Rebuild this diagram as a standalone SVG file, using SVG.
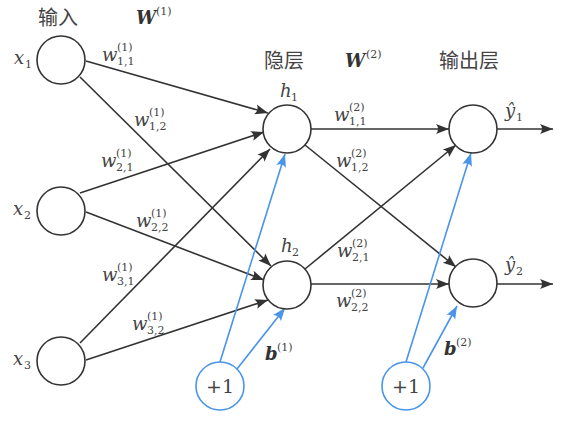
<svg xmlns="http://www.w3.org/2000/svg" width="583" height="424" viewBox="0 0 583 424">
<style>
.nd{fill:#fff;stroke:#333;stroke-width:1.6}
.bn{fill:#fff;stroke:#4a94ea;stroke-width:1.6}
.ln{stroke:#333;stroke-width:1.6;fill:none}
.bl{stroke:#4a94ea;stroke-width:1.6;fill:none}
.cn{font-family:"Noto Sans CJK SC","Noto Sans",sans-serif;font-size:20px;fill:#444}
.m{font-family:"DejaVu Serif","Liberation Serif",serif;font-style:italic;font-size:18px;fill:#444}
.s{font-family:"DejaVu Serif","Liberation Serif",serif;font-size:11px;fill:#444}
.bw{font-family:"DejaVu Serif","Liberation Serif",serif;font-style:italic;font-weight:bold;font-size:18px;fill:#333}
.r{font-family:"DejaVu Serif","Liberation Serif",serif;font-size:19px;fill:#444}
</style>
<defs>
<marker id="ah" viewBox="-13 -6 14 12" refX="0" refY="0" markerWidth="14" markerHeight="12" markerUnits="userSpaceOnUse" orient="auto">
<path d="M0,0 L-13,-5 Q-9,0 -13,5 Z" fill="#333"/>
</marker>
<marker id="ab" viewBox="-13 -6 14 12" refX="0" refY="0" markerWidth="14" markerHeight="12" markerUnits="userSpaceOnUse" orient="auto">
<path d="M0,0 L-13,-5 Q-9,0 -13,5 Z" fill="#4a94ea"/>
</marker>
</defs>
<rect width="583" height="424" fill="#fff"/>
<g id="headers">
<text class="cn" x="38" y="25">输入</text>
<text class="bw" x="136" y="24">W</text><text class="s" x="156" y="15">(1)</text>
<text class="cn" x="264" y="68">隐层</text>
<text class="bw" x="345" y="67">W</text><text class="s" x="366" y="58">(2)</text>
<text class="cn" x="439" y="68">输出层</text>
</g>
<g id="connectors">
<line class="ln" x1="86" y1="61" x2="268" y2="113" marker-end="url(#ah)"/>
<line class="ln" x1="80" y1="77" x2="271" y2="266" marker-end="url(#ah)"/>
<line class="ln" x1="80" y1="193" x2="264" y2="132" marker-end="url(#ah)"/>
<line class="ln" x1="86" y1="212" x2="264" y2="280" marker-end="url(#ah)"/>
<line class="ln" x1="80" y1="343" x2="270" y2="149" marker-end="url(#ah)"/>
<line class="ln" x1="86" y1="360" x2="268" y2="300" marker-end="url(#ah)"/>
<line class="ln" x1="311" y1="129" x2="449" y2="129" marker-end="url(#ah)"/>
<line class="ln" x1="305" y1="145" x2="456" y2="267" marker-end="url(#ah)"/>
<line class="ln" x1="305" y1="269" x2="456" y2="145" marker-end="url(#ah)"/>
<line class="ln" x1="311" y1="284" x2="449" y2="284" marker-end="url(#ah)"/>
<line class="ln" x1="497" y1="129" x2="553" y2="129" marker-end="url(#ah)"/>
<line class="ln" x1="497" y1="284" x2="553" y2="284" marker-end="url(#ah)"/>
<line class="bl" x1="220" y1="362" x2="285" y2="154" marker-end="url(#ab)"/>
<line class="bl" x1="237" y1="369" x2="285" y2="308" marker-end="url(#ab)"/>
<line class="bl" x1="406" y1="362" x2="471" y2="153" marker-end="url(#ab)"/>
<line class="bl" x1="423" y1="368" x2="457" y2="306" marker-end="url(#ab)"/>
</g>
<g id="weights">
<text class="m" x="102" y="61">w</text><text class="s" x="117" y="51">(1)</text><text class="s" x="117" y="65">1,1</text>
<text class="m" x="134" y="126">w</text><text class="s" x="149" y="116">(1)</text><text class="s" x="149" y="130">1,2</text>
<text class="m" x="101" y="167">w</text><text class="s" x="116" y="157">(1)</text><text class="s" x="116" y="171">2,1</text>
<text class="m" x="136" y="227">w</text><text class="s" x="151" y="217">(1)</text><text class="s" x="151" y="231">2,2</text>
<text class="m" x="102" y="281">w</text><text class="s" x="117" y="271">(1)</text><text class="s" x="117" y="285">3,1</text>
<text class="m" x="132" y="330">w</text><text class="s" x="147" y="320">(1)</text><text class="s" x="147" y="334">3,2</text>
<text class="m" x="334" y="121">w</text><text class="s" x="349" y="111">(2)</text><text class="s" x="349" y="125">1,1</text>
<text class="m" x="336" y="167">w</text><text class="s" x="351" y="157">(2)</text><text class="s" x="351" y="171">1,2</text>
<text class="m" x="337" y="257">w</text><text class="s" x="352" y="247">(2)</text><text class="s" x="352" y="261">2,1</text>
<text class="m" x="336" y="307">w</text><text class="s" x="351" y="297">(2)</text><text class="s" x="351" y="311">2,2</text>
<text class="bw" x="265" y="360">b</text><text class="s" x="277" y="351">(1)</text>
<text class="bw" x="444" y="355">b</text><text class="s" x="456" y="346">(2)</text>
</g>
<g id="x1"><circle class="nd" cx="61" cy="60" r="24"/><text class="m" x="14" y="64">x</text><text class="s" x="25" y="68">1</text></g>
<g id="x2"><circle class="nd" cx="61" cy="211" r="24"/><text class="m" x="13" y="215">x</text><text class="s" x="24" y="219">2</text></g>
<g id="x3"><circle class="nd" cx="61" cy="361" r="24"/><text class="m" x="13" y="365">x</text><text class="s" x="24" y="369">3</text></g>
<g id="h1"><circle class="nd" cx="287" cy="129" r="24"/><text class="m" x="280" y="97">h</text><text class="s" x="291" y="101">1</text></g>
<g id="h2"><circle class="nd" cx="287" cy="285" r="24"/><text class="m" x="281" y="252">h</text><text class="s" x="292" y="256">2</text></g>
<g id="y1"><circle class="nd" cx="473" cy="129" r="24"/><text class="m" x="505" y="117">ŷ</text><text class="s" x="516" y="121">1</text></g>
<g id="y2"><circle class="nd" cx="473" cy="283" r="24"/><text class="m" x="505" y="271">ŷ</text><text class="s" x="516" y="275">2</text></g>
<g id="b1"><circle class="bn" cx="220" cy="386" r="24"/><text class="r" x="220" y="393" text-anchor="middle">+1</text></g>
<g id="b2"><circle class="bn" cx="406" cy="386" r="24"/><text class="r" x="406" y="393" text-anchor="middle">+1</text></g>
</svg>
